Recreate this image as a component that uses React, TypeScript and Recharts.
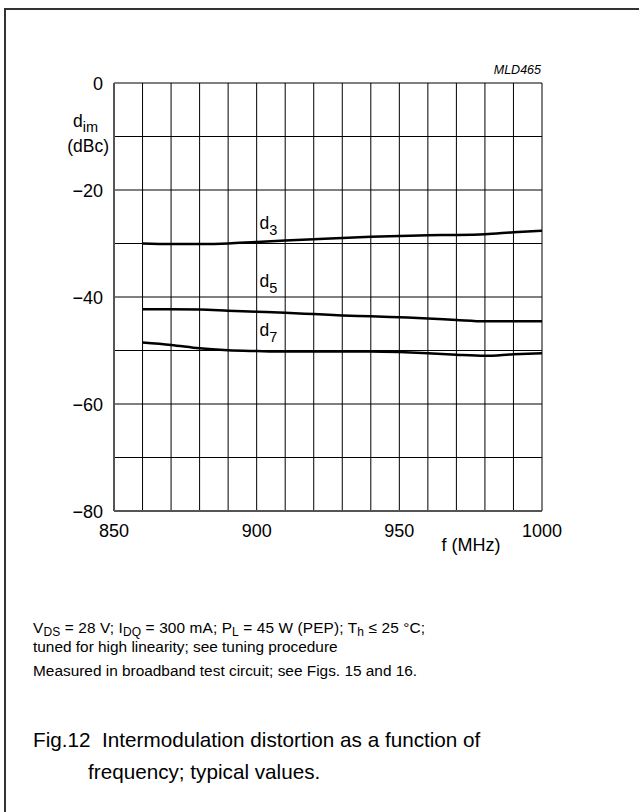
import React from 'react';
import { LineChart, Line, XAxis, YAxis, CartesianGrid, ReferenceDot } from 'recharts';

const freq = [860, 870, 880, 890, 900, 910, 920, 930, 940, 950, 960, 970, 980, 990, 1000];
const d3 = [-30.0, -30.1, -30.1, -30.0, -29.7, -29.45, -29.2, -28.95, -28.75, -28.6, -28.45, -28.4, -28.25, -27.9, -27.6];
const d5 = [-42.3, -42.3, -42.35, -42.55, -42.75, -42.95, -43.2, -43.45, -43.6, -43.8, -44.0, -44.3, -44.55, -44.55, -44.55];
const d7 = [-48.5, -48.95, -49.6, -49.95, -50.1, -50.2, -50.2, -50.2, -50.2, -50.3, -50.5, -50.8, -51.0, -50.7, -50.5];

const xTicks = [850, 860, 870, 880, 890, 900, 910, 920, 930, 940, 950, 960, 970, 980, 990, 1000];
const xLabels = [850, 900, 950, 1000];
const yTicks = [0, -10, -20, -30, -40, -50, -60, -70, -80];
const yLabels = [0, -20, -40, -60, -80];

const seriesNames = ['3', '5', '7'];
const labelX = [901, 901, 901];
const labelY = [-27.3, -38.1, -47.3];

const mk = (vals: number[]) => freq.map((f, i) => ({ f, v: vals[i] }));
const series = [mk(d3), mk(d5), mk(d7)];

const FONT = '"Liberation Sans", Arial, Helvetica, sans-serif';

const fmt = (v: number) => (v < 0 ? '\u2212' + Math.abs(v) : String(v));

const renderXTick = (props: any) => {
  const { x, payload } = props;
  const val = Number(payload && payload.value);
  if (!xLabels.includes(val)) return <g />;
  return (
    <text x={x} y={511 + 26} textAnchor="middle" fontSize={18} fontFamily={FONT} fill="#000">
      {val}
    </text>
  );
};

const renderYTick = (props: any) => {
  const { y, payload } = props;
  const val = Number(payload && payload.value);
  if (!yLabels.includes(val)) return <g />;
  return (
    <text x={103} y={y + 6.5} textAnchor="end" fontSize={18} fontFamily={FONT} fill="#000">
      {fmt(val)}
    </text>
  );
};

const makeLabelShape = (sub: string) => (props: any) => {
  const { cx, cy } = props;
  return (
    <text x={cx} y={cy} fontSize={17.5} fontFamily={FONT} fill="#000">
      <tspan>d</tspan>
      <tspan dy={6} fontSize={14.5}>{sub}</tspan>
    </text>
  );
};

export default function App() {
  return (
    <div style={{ position: 'absolute', left: 0, top: 0, width: 639, height: 812, background: '#fff', overflow: 'hidden' }}>
      <div
        style={{
          position: 'absolute',
          left: 4,
          top: 8,
          width: 700,
          height: 900,
          borderLeft: '2px solid #333',
          borderTop: '2px solid #333',
        }}
      />
      <LineChart
        width={639}
        height={812}
        margin={{ top: 83, right: 97, bottom: 261, left: 54 }}
        style={{ position: 'absolute', left: 0, top: 0 }}
      >
        <CartesianGrid stroke="#000" strokeWidth={1} horizontalValues={yTicks} verticalValues={xTicks} />
        <XAxis
          type="number"
          dataKey="f"
          domain={[850, 1000]}
          ticks={xTicks}
          interval={0}
          height={40}
          tickLine={false}
          axisLine={{ stroke: '#555', strokeWidth: 2 }}
          tick={renderXTick}
          allowDataOverflow
        />
        <YAxis
          type="number"
          dataKey="v"
          domain={[-80, 0]}
          ticks={yTicks}
          interval={0}
          width={60}
          tickLine={false}
          axisLine={{ stroke: '#555', strokeWidth: 2 }}
          tick={renderYTick}
          allowDataOverflow
        />
        {series.map((d, i) => (
          <Line
            key={i}
            data={d}
            dataKey="v"
            type="monotone"
            stroke="#000"
            strokeWidth={2.5}
            dot={false}
            isAnimationActive={false}
          />
        ))}
        {seriesNames.map((s, i) => (
          <ReferenceDot key={s} x={labelX[i]} y={labelY[i]} r={0} shape={makeLabelShape(s)} />
        ))}
      </LineChart>
      <svg
        width={639}
        height={812}
        style={{ position: 'absolute', left: 0, top: 0, pointerEvents: 'none' }}
        fontFamily={FONT}
      >
        <text x={541} y={74} textAnchor="end" fontSize={12.5} fontStyle="italic" fill="#000">
          MLD465
        </text>
        <text x={73} y={127} fontSize={17.5} fill="#000">
          <tspan>d</tspan>
          <tspan dy={5} fontSize={14.5}>im</tspan>
        </text>
        <text x={109} y={152} textAnchor="end" fontSize={17.5} fill="#000">
          (dBc)
        </text>
        <text x={471} y={551} textAnchor="middle" fontSize={18} fill="#000">
          f (MHz)
        </text>
        <text x={33} y={633} fontSize={15.4} fill="#000" textLength={392} lengthAdjust="spacing">
          <tspan>V</tspan>
          <tspan dy={3} fontSize={12}>DS</tspan>
          <tspan dy={-3}> = 28 V; I</tspan>
          <tspan dy={3} fontSize={12}>DQ</tspan>
          <tspan dy={-3}> = 300 mA; P</tspan>
          <tspan dy={3} fontSize={12}>L</tspan>
          <tspan dy={-3}> = 45 W (PEP); T</tspan>
          <tspan dy={3} fontSize={12}>h</tspan>
          <tspan dy={-3}> ≤ 25 °C;</tspan>
        </text>
        <text x={33} y={652} fontSize={15.4} fill="#000">
          tuned for high linearity; see tuning procedure
        </text>
        <text x={33} y={676} fontSize={15.4} fill="#000">
          Measured in broadband test circuit; see Figs. 15 and 16.
        </text>
        <text x={33} y={747} fontSize={20.7} fill="#000">
          Fig.12{'\u00a0\u00a0'}Intermodulation distortion as a function of
        </text>
        <text x={88} y={779} fontSize={20.7} fill="#000">
          frequency; typical values.
        </text>
      </svg>
    </div>
  );
}
